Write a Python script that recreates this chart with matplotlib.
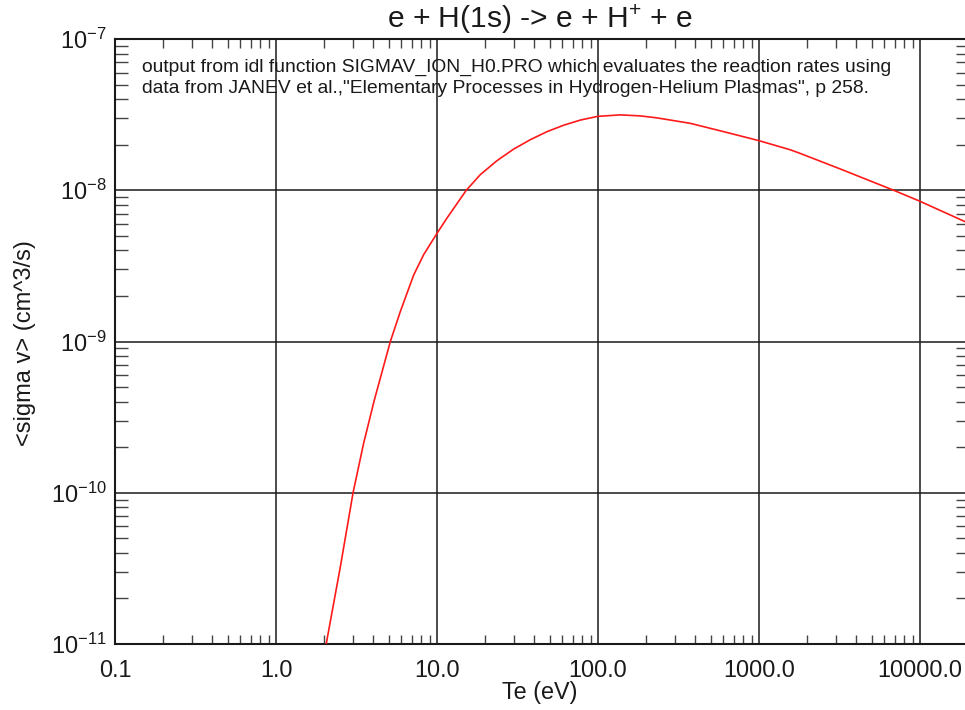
import matplotlib
matplotlib.use("Agg")
import matplotlib.pyplot as plt
from matplotlib.ticker import FixedLocator, LogLocator, NullFormatter, FixedFormatter

plt.rcParams['font.family'] = ['Liberation Sans', 'DejaVu Sans']
plt.rcParams['mathtext.fontset'] = 'custom'
plt.rcParams['mathtext.rm'] = 'Liberation Sans'
plt.rcParams['mathtext.it'] = 'Liberation Sans'
plt.rcParams['mathtext.bf'] = 'Liberation Sans'

# ---- data ----
te_ev = [2.05, 2.51, 3.01, 3.50, 4.08, 5.13, 5.92, 7.16, 8.26, 10.0, 11.5, 15.2, 18.6,
         23.6, 29.9, 38.0, 48.2, 61.1, 77.6, 99.5, 138, 184, 232, 374, 603, 995,
         1567, 1807, 3210, 6855, 9900, 19100]
sigma_v = [1.0e-11, 3.24e-11, 1.0e-10, 2.12e-10, 4.10e-10, 1.0e-9, 1.58e-9, 2.75e-9,
           3.75e-9, 5.19e-9, 6.52e-9, 1.0e-8, 1.27e-8, 1.57e-8, 1.87e-8, 2.16e-8,
           2.44e-8, 2.69e-8, 2.91e-8, 3.08e-8, 3.15e-8, 3.10e-8, 3.01e-8, 2.77e-8,
           2.44e-8, 2.13e-8, 1.85e-8, 1.75e-8, 1.38e-8, 1.0e-8, 8.49e-9, 6.19e-9]

x_ticks = [0.1, 1.0, 10.0, 100.0, 1000.0, 10000.0]
x_ticklabels = ['0.1', '1.0', '10.0', '100.0', '1000.0', '10000.0']
y_ticks = [1e-11, 1e-10, 1e-9, 1e-8, 1e-7]
y_ticklabels = [r'$10^{-11}$', r'$10^{-10}$', r'$10^{-9}$', r'$10^{-8}$', r'$10^{-7}$']

title = r'e + H(1s) -> e + H$^{+}$ + e'
note1 = 'output from idl function SIGMAV_ION_H0.PRO which evaluates the reaction rates using'
note2 = 'data from JANEV et al.,"Elementary Processes in Hydrogen-Helium Plasmas", p 258.'

W, H = 965, 710
fig = plt.figure(figsize=(W / 100, H / 100), dpi=100)
ax = fig.add_axes([115 / W, 66 / H, 853.5 / W, 605 / H])

ax.plot(te_ev, sigma_v, color='#ff1a1a', lw=1.2, zorder=3)

ax.set_xscale('log')
ax.set_yscale('log')
ax.set_xlim(0.1, 2e4)
ax.set_ylim(1e-11, 1e-7)

# major ticks as full grid lines
ax.xaxis.set_major_locator(FixedLocator(x_ticks))
ax.xaxis.set_major_formatter(FixedFormatter(x_ticklabels))
ax.yaxis.set_major_locator(FixedLocator(y_ticks))
ax.yaxis.set_major_formatter(FixedFormatter(y_ticklabels))
ax.xaxis.set_minor_locator(LogLocator(base=10, subs=range(2, 10), numticks=20))
ax.yaxis.set_minor_locator(LogLocator(base=10, subs=range(2, 10), numticks=20))
ax.xaxis.set_minor_formatter(NullFormatter())
ax.yaxis.set_minor_formatter(NullFormatter())

ax.grid(True, which='major', color='#1a1a1a', lw=1.1)
ax.tick_params(which='major', length=0, colors='#1a1a1a')
ax.tick_params(axis='x', which='major', pad=11, labelsize=16.8)
ax.tick_params(axis='y', which='major', pad=6, labelsize=17)
ax.tick_params(axis='x', which='minor', direction='in', length=6.5, width=1.0,
               color='#444444', top=True, bottom=True)
ax.tick_params(axis='y', which='minor', direction='in', length=9.5, width=1.0,
               color='#444444', left=True, right=True)
for s in ax.spines.values():
    s.set_color('#1a1a1a')
    s.set_linewidth(1.5)

ax.text(0.0313, 0.945, note1, transform=ax.transAxes, fontsize=13.9,
        va='baseline', ha='left', color='#1a1a1a')
ax.text(0.0313, 0.910, note2, transform=ax.transAxes, fontsize=13.9,
        va='baseline', ha='left', color='#1a1a1a')

fig.text(540 / W, 1 - 28.5 / H, title, fontsize=21.6, ha='center', va='baseline',
         color='#1a1a1a')
fig.text(540 / W, 1 - 692 / H, 'Te (eV)', fontsize=16.8, ha='center', va='center',
         color='#1a1a1a')
fig.text(25 / W, 1 - 343 / H, '<sigma v> (cm^3/s)', fontsize=17, ha='center',
         va='center', rotation=90, color='#1a1a1a')

fig.savefig('out.png', dpi=100, facecolor='white')
